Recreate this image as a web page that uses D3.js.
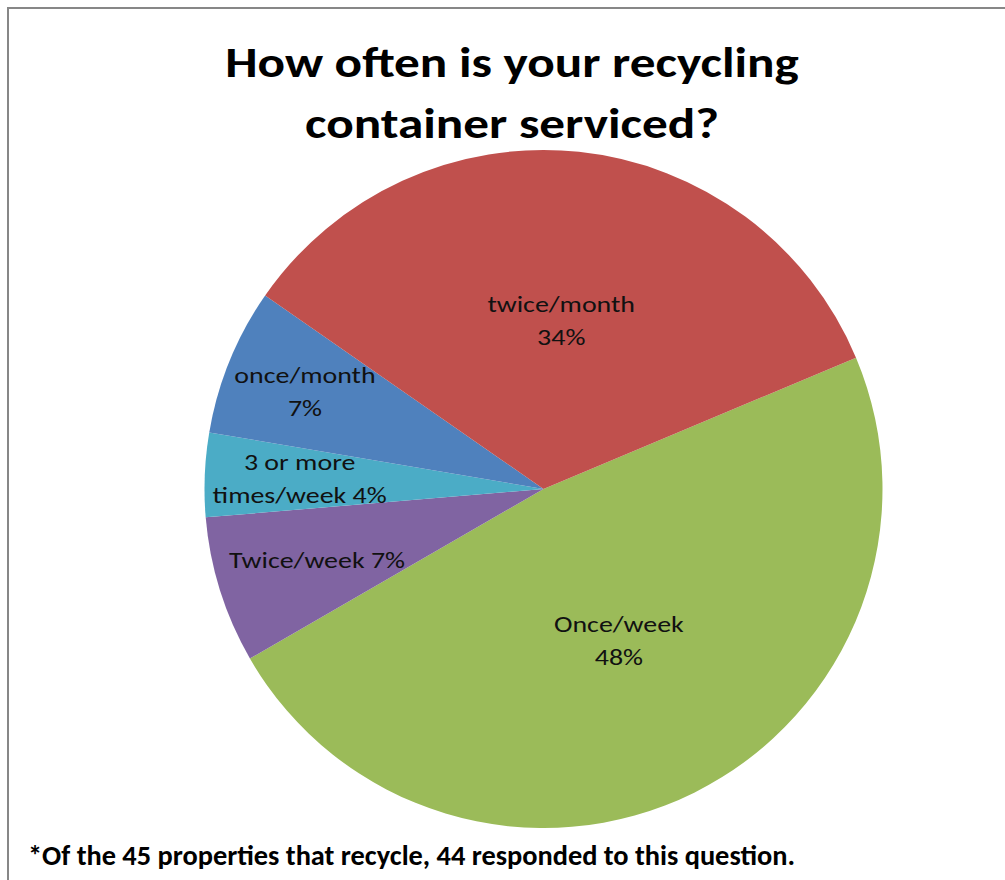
<!DOCTYPE html>
<html>
<head>
<meta charset="utf-8">
<script src="https://cdn.jsdelivr.net/npm/d3@7"></script>
<style>
  body { margin: 0; background: #fff; }
  text { font-family: Carlito, Lato, "Open Sans", sans-serif; }
</style>
</head>
<body>
<div id="chart"></div>
<script>
// Data
var categories = ["Once/week", "Twice/week", "3 or more times/week", "once/month", "twice/month"];
var values = [48, 7, 4, 7, 34];
var labelLines = [["Once/week", "48%"], ["Twice/week 7%"], ["3 or more", "times/week 4%"], ["once/month", "7%"], ["twice/month", "34%"]];
var colors = ["#9BBB59", "#8064A2", "#4BACC6", "#4F81BD", "#C0504D"];
var titleLines = ["How often is your recycling", "container serviced?"];
var footnote = "*Of the 45 properties that recycle, 44 responded to this question.";

// label distance from centre, as a share of the radius ("best fit" look)
var labelRadius = [0.5, 0.70, 0.72, 0.76, 0.5];

var width = 1005,
    height = 880;

var svg = d3.select("#chart").append("svg")
    .attr("width", width)
    .attr("height", height);

// chart frame
svg.append("rect")
    .attr("x", 8)
    .attr("y", 8)
    .attr("width", 1100)
    .attr("height", 1000)
    .attr("fill", "#fff")
    .attr("stroke", "#878787")
    .attr("stroke-width", 2);

// Title (text is a bit wider than Lato, so stretch it)
svg.append("g").selectAll("text")
    .data(titleLines)
    .enter().append("text")
    .attr("transform", function (d, i) { return "translate(512," + (77 + i * 61) + ") scale(1.22,1)"; })
    .attr("text-anchor", "middle")
    .attr("font-size", 42)
    .attr("font-weight", "bold")
    .attr("fill", "#000")
    .text(function (d) { return d; });

// Pie
var radius = 339;
var cx = 543.5, cy = 489;
var startAngle = 67.2 * Math.PI / 180;

var pie = d3.pie()
    .sort(null)
    .startAngle(startAngle)
    .endAngle(startAngle + 2 * Math.PI);

var arc = d3.arc()
    .innerRadius(0)
    .outerRadius(radius);

var arcs = pie(values);

var g = svg.append("g")
    .attr("transform", "translate(" + cx + "," + cy + ")");

g.selectAll("path")
    .data(arcs)
    .enter().append("path")
    .attr("d", arc)
    .attr("fill", function (d, i) { return colors[i]; });

// Labels
var labels = g.selectAll("text.label")
    .data(arcs)
    .enter().append("text")
    .attr("class", "label")
    .attr("text-anchor", "middle")
    .attr("font-size", 22)
    .attr("fill", "#111")
    .attr("transform", function (d, i) {
        var a = (d.startAngle + d.endAngle) / 2;
        var r = radius * labelRadius[i];
        return "translate(" + (r * Math.sin(a)) + "," + (-r * Math.cos(a)) + ") scale(1.27,1)";
    });

labels.selectAll("tspan")
    .data(function (d, i) {
        var lines = labelLines[i];
        return lines.map(function (t, j) { return { t: t, j: j, n: lines.length }; });
    })
    .enter().append("tspan")
    .attr("x", 0)
    .attr("y", function (d) { return (d.j - (d.n - 1) / 2) * 33 + 8; })
    .text(function (d) { return d.t; });

// Footnote
svg.append("text")
    .attr("x", 28)
    .attr("y", 865)
    .attr("font-size", 28)
    .attr("font-weight", "bold")
    .attr("fill", "#000")
    .attr("textLength", 767)
    .attr("lengthAdjust", "spacingAndGlyphs")
    .text(footnote);
</script>
</body>
</html>
